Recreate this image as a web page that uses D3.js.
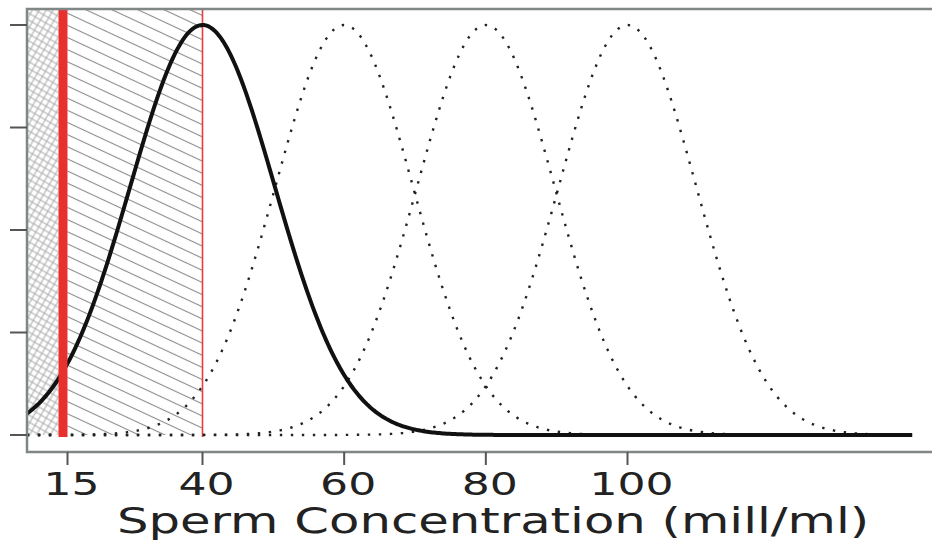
<!DOCTYPE html>
<html>
<head>
<meta charset="utf-8">
<script src="https://cdn.jsdelivr.net/npm/d3@7"></script>
<style>
  html, body { margin: 0; padding: 0; background: #fff; }
  svg { display: block; }
  text { font-family: "DejaVu Sans", Verdana, sans-serif; fill: #222; }
</style>
</head>
<body>
<svg id="chart" width="932" height="543"></svg>
<script>
// Sperm concentration chart -- normal curves with reference limits

// data
var means = [40, 60, 80, 100];        // first one is the solid curve
var sds = [10.2, 9.7, 9.7, 9.7];
var domainX = [15.2, 140.3];          // span of the drawn curves
var limits = [15, 40];                // red lines
var tickValues = [15, 40, 60, 80, 100];
var tickLabels = ["15", "40", "60", "80", "100"];
var yTicks = [0, 0.25, 0.5, 0.75, 1];
var axisTitle = "Sperm Concentration (mill/ml)";

var chartW = 932;
var plotLeft = 27, plotTop = 9, plotBottom = 452;
var stretch = 1.4; // the picture's text is wide

var svg = d3.select("#chart");

// curves use a plain linear scale
var x = d3.scaleLinear().domain([40, 100]).range([202.5, 627.5]);
// the axis labels in the picture do not sit on the same scale at 15
var xAxisPos = d3.scaleLinear().domain([15, 40, 100]).range([67.5, x(40), x(100)]);
var y = d3.scaleLinear().domain([0, 1]).range([435, 25]);

var density = function (mean, sd) {
  // peak-normalised normal curve
  return function (v) { return Math.exp(-((v - mean) * (v - mean)) / (2 * sd * sd)); };
};

var samples = d3.range(domainX[0], domainX[1] + 0.001, 0.25);

///////////////////////////////////////////////////////////////////////////////
// Hatch patterns

var defs = svg.append("defs");

var hatch = defs.append("pattern")
  .attr("id", "hatch")
  .attr("patternUnits", "userSpaceOnUse")
  .attr("width", 10).attr("height", 11)
  .attr("patternTransform", "rotate(25)");
hatch.append("path")
  .attr("d", "M0,5.5H10")
  .attr("stroke", "#8c8c8c")
  .attr("stroke-width", 1.1);

var cross = defs.append("pattern")
  .attr("id", "cross")
  .attr("patternUnits", "userSpaceOnUse")
  .attr("width", 6).attr("height", 6)
  .attr("patternTransform", "rotate(30)");
cross.append("path")
  .attr("d", "M0,3H6M3,0V6")
  .attr("stroke", "#a8a8a8")
  .attr("stroke-width", 1);

var x15 = xAxisPos(limits[0]), x40 = xAxisPos(limits[1]);

svg.append("rect")
  .attr("x", plotLeft).attr("y", plotTop)
  .attr("width", x15 - 9 - plotLeft).attr("height", y(0) - plotTop)
  .attr("fill", "url(#cross)");

svg.append("rect")
  .attr("x", x15).attr("y", plotTop)
  .attr("width", x40 - x15).attr("height", y(0) - plotTop)
  .attr("fill", "url(#hatch)");

// thin red line at 40
svg.append("line")
  .attr("x1", x40).attr("x2", x40)
  .attr("y1", plotTop).attr("y2", y(0) + 2)
  .attr("stroke", "#ee3b3b")
  .attr("stroke-width", 1.6);

///////////////////////////////////////////////////////////////////////////////
// Curves

var line = d3.line()
  .x(function (d) { return x(d[0]); })
  .y(function (d) { return y(d[1]); });

means.forEach(function (m, i) {
  if (i === 0) return;
  var f = density(m, sds[i]);
  svg.append("path")
    .attr("d", line(samples.map(function (v) { return [v, f(v)]; })))
    .attr("fill", "none")
    .attr("stroke", "#222")
    .attr("stroke-width", 2.4)
    .attr("stroke-dasharray", "2.4,8.6");
});

var solid = density(means[0], sds[0]);
svg.append("path")
  .attr("d", line(samples.map(function (v) { return [v, solid(v)]; })))
  .attr("fill", "none")
  .attr("stroke", "#111")
  .attr("stroke-width", 4);

// thick red line at 15
svg.append("rect")
  .attr("x", x15 - 9).attr("y", plotTop)
  .attr("width", 9).attr("height", y(0) + 2 - plotTop)
  .attr("fill", "#e8312f");

///////////////////////////////////////////////////////////////////////////////
// Frame and axes

svg.append("path")
  .attr("d", "M" + chartW + "," + plotTop + "H" + plotLeft + "V" + plotBottom + "H" + chartW)
  .attr("fill", "none")
  .attr("stroke", "#7f8787")
  .attr("stroke-width", 2.5);

svg.selectAll(".ytick").data(yTicks).enter().append("line")
  .attr("class", "ytick")
  .attr("x1", 10).attr("x2", plotLeft)
  .attr("y1", function (d) { return y(d); })
  .attr("y2", function (d) { return y(d); })
  .attr("stroke", "#555")
  .attr("stroke-width", 2);

svg.selectAll(".xtick").data(tickValues).enter().append("line")
  .attr("class", "xtick")
  .attr("x1", function (d) { return xAxisPos(d); })
  .attr("x2", function (d) { return xAxisPos(d); })
  .attr("y1", plotBottom).attr("y2", plotBottom + 13)
  .attr("stroke", "#555")
  .attr("stroke-width", 2);

svg.selectAll(".xlabel").data(tickValues).enter().append("text")
  .attr("class", "xlabel")
  .attr("transform", function (d) {
    return "translate(" + (xAxisPos(d) + 4) + ",495) scale(" + stretch + ",1)";
  })
  .attr("text-anchor", "middle")
  .style("font-size", "31.5px")
  .text(function (d, i) { return tickLabels[i]; });

svg.append("text")
  .attr("transform", "translate(493,533) scale(" + stretch + ",1)")
  .attr("text-anchor", "middle")
  .style("font-size", "35.5px")
  .text(axisTitle);
</script>
</body>
</html>
